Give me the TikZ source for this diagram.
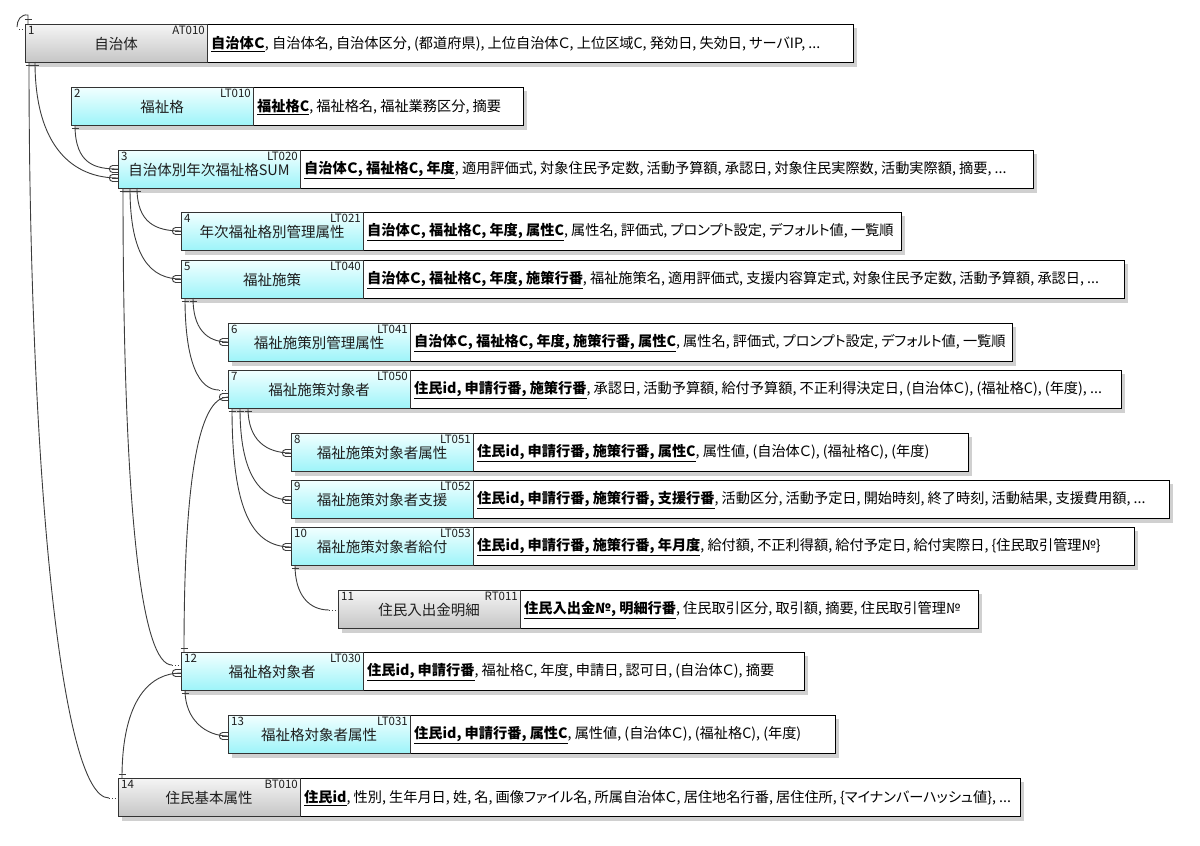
\documentclass[tikz,border=0pt]{standalone}
\usepackage{fontspec}
\setmainfont{Noto Sans CJK JP}
\newfontfamily\attrfont{Noto Sans CJK JP}[RawFeature=+palt]
\usetikzlibrary{calc}
\definecolor{cyanT}{HTML}{F2FFFF}
\definecolor{cyanB}{HTML}{9EF4F9}
\definecolor{grayT}{HTML}{F5F5F5}
\definecolor{grayB}{HTML}{C6C6C6}
\definecolor{shadowc}{HTML}{D0D0D0}
\definecolor{edgec}{HTML}{333333}
\definecolor{connc}{HTML}{3C3C3C}
\definecolor{txtc}{HTML}{1E1E1E}
\tikzset{
 lbox/.style={draw=edgec, line width=1pt, minimum width=182pt, minimum height=38pt, anchor=north west, inner sep=0pt, outer sep=0pt},
 cy/.style={top color=cyanT, bottom color=cyanB},
 gr/.style={top color=grayT, bottom color=grayB},
 abox/.style={draw=black, line width=1pt, fill=white, minimum height=38pt, anchor=north west, inner sep=0pt, outer sep=0pt},
 numl/.style={font=\fontsize{11.5}{11.5}\selectfont, text=txtc, anchor=north west, inner sep=0pt},
 codel/.style={font=\fontsize{11.5}{11.5}\selectfont, text=txtc, anchor=north east, inner sep=0pt},
 titl/.style={font=\fontsize{14.5}{15}\selectfont, text=txtc, inner sep=0pt},
 attl/.style={font=\attrfont\fontsize{14.2}{15}\selectfont, text=black, anchor=west, inner sep=0pt},
 conn/.style={draw=connc, line width=0.9pt},
 dotend/.style={draw=connc, line width=0.9pt, dotted},
}
\newcommand\pk[1]{\underline{\textbf{#1}}}
% #1 id, #2 num, #3 code, #4 x, #5 y, #6 right, #7 style, #8 title, #9 attrs
\newcommand\ent[9]{%
 \fill[shadowc] (#4+4,#5+4) rectangle (#6+4,#5+43);
 \node[abox, minimum width={#6-#4-182}] (a#1) at (#4+182,#5) {};
 \node[lbox,#7] (e#1) at (#4,#5) {};
 \node[numl] (n#1) at ($(e#1.north west)+(3,2)$) {#2};
 \node[codel] (c#1) at ($(e#1.north east)+(-2,1.5)$) {#3};
 \node[titl] (t#1) at ($(e#1.center)+(0,1)$) {#8};
 \node[attl] (x#1) at ($(a#1.west)+(4,1)$) {#9};
}
\newcommand\tkmark[2]{\draw[conn] ($(#1)+(-3.5,#2)$) -- ($(#1)+(3.5,#2)$);}
\newcommand\crow[1]{%
 \draw[conn] ($(#1)+(-6,-3.2)$) -- ($(#1)+(0,-3.2)$) ($(#1)+(-6,0)$) -- (#1) ($(#1)+(-6,3.2)$) -- ($(#1)+(0,3.2)$);
 \draw[conn] ($(#1)+(-5,-3.6)$) .. controls +(-4.8,0) and +(-4.8,0) .. ($(#1)+(-5,3.6)$);}
\begin{document}
\begin{tikzpicture}[x=1pt,y=-1pt]
\useasboundingbox (0,0) rectangle (1200,846);
\ent{1}{1}{AT010}{25}{24}{853}{gr}{自治体}{\pk{自治体Ｃ}, 自治体名, 自治体区分, (都道府県), 上位自治体Ｃ, 上位区域C, 発効日, 失効日, サーバIP, ...}
\ent{2}{2}{LT010}{71}{87}{523}{cy}{福祉格}{\pk{福祉格C}, 福祉格名, 福祉業務区分, 摘要}
\ent{3}{3}{LT020}{118}{150}{1033}{cy}{自治体別年次福祉格SUM}{\pk{自治体Ｃ, 福祉格C, 年度}, 適用評価式, 対象住民予定数, 活動予算額, 承認日, 対象住民実際数, 活動実際額, 摘要, ...}
\ent{4}{4}{LT021}{181}{212}{901}{cy}{年次福祉格別管理属性}{\pk{自治体Ｃ, 福祉格C, 年度, 属性C}, 属性名, 評価式, プロンプト設定, デフォルト値, 一覧順}
\ent{5}{5}{LT040}{181}{260}{1124}{cy}{福祉施策}{\pk{自治体Ｃ, 福祉格C, 年度, 施策行番}, 福祉施策名, 適用評価式, 支援内容算定式, 対象住民予定数, 活動予算額, 承認日, ...}
\ent{6}{6}{LT041}{228}{323}{1012}{cy}{福祉施策別管理属性}{\pk{自治体Ｃ, 福祉格C, 年度, 施策行番, 属性C}, 属性名, 評価式, プロンプト設定, デフォルト値, 一覧順}
\ent{7}{7}{LT050}{228}{370}{1121}{cy}{福祉施策対象者}{\pk{住民id, 申請行番, 施策行番}, 承認日, 活動予算額, 給付予算額, 不正利得決定日, (自治体Ｃ), (福祉格C), (年度), ...}
\ent{8}{8}{LT051}{291}{433}{968}{cy}{福祉施策対象者属性}{\pk{住民id, 申請行番, 施策行番, 属性C}, 属性値, (自治体Ｃ), (福祉格C), (年度)}
\ent{9}{9}{LT052}{291}{480}{1169}{cy}{福祉施策対象者支援}{\pk{住民id, 申請行番, 施策行番, 支援行番}, 活動区分, 活動予定日, 開始時刻, 終了時刻, 活動結果, 支援費用額, ...}
\ent{10}{10}{LT053}{291}{527}{1134}{cy}{福祉施策対象者給付}{\pk{住民id, 申請行番, 施策行番, 年月度}, 給付額, 不正利得額, 給付予定日, 給付実際日, \{住民取引管理№\}}
\ent{11}{11}{RT011}{338}{590}{978}{gr}{住民入出金明細}{\pk{住民入出金№, 明細行番}, 住民取引区分, 取引額, 摘要, 住民取引管理№}
\ent{12}{12}{LT030}{181}{652}{804}{cy}{福祉格対象者}{\pk{住民id, 申請行番}, 福祉格C, 年度, 申請日, 認可日, (自治体Ｃ), 摘要}
\ent{13}{13}{LT031}{228}{715}{835}{cy}{福祉格対象者属性}{\pk{住民id, 申請行番, 属性C}, 属性値, (自治体Ｃ), (福祉格C), (年度)}
\ent{14}{14}{BT010}{118}{778}{1020}{gr}{住民基本属性}{\pk{住民id}, 性別, 生年月日, 姓, 名, 画像ファイル名, 所属自治体Ｃ, 居住地名行番, 居住住所, \{マイナンバーハッシュ値\}, ...}

% ---- connectors ----
% self relation of 1
\coordinate (l0) at ($(e1.north west)+(3,0)$);
\coordinate (l1) at ($(e1.north west)+(3,-9)$);
\coordinate (l2) at ($(e1.north west)+(-8,3)$);
\coordinate (l3) at ($(e1.north west)+(-6,5)$);
\coordinate (l4) at ($(e1.north west)+(0,5)$);
\draw[conn] (l0) -- (l1) .. controls +(-7,-1) and +(0,-7) .. (l2);
\draw[dotend] (l3) -- (l4);
\tkmark{l0}{-5}

% 1 -> 14
\coordinate (s1) at ($(e1.south west)+(4,0)$);
\coordinate (u1) at ($(e14.west)+(0,1)$);
\coordinate (v1) at ($(u1)+(-9,0)$);
\draw[conn] (s1) .. controls +(0,390) and +(-50,0) .. (v1);
\draw[dotend] (v1) -- (u1);
\tkmark{s1}{3}
% 1 -> 3
\coordinate (s2) at ($(e1.south west)+(10,0)$);
\coordinate (u2) at ($(e3.west)+(0,9)$);
\draw[conn] (s2) .. controls +(0,85) and +(-45,0) .. (u2);
\tkmark{s2}{3}
\crow{u2}
% 2 -> 3
\coordinate (s3) at ($(e2.south west)+(4,0)$);
\coordinate (u3) at ($(e3.west)+(0,0)$);
\draw[conn] (s3) .. controls +(0,40) and +(-22,0) .. (u3);
\tkmark{s3}{3}
\crow{u3}
% 3 -> 4
\coordinate (s4) at ($(e3.south west)+(19,0)$);
\coordinate (u4) at ($(e4.west)+(0,0)$);
\draw[conn] (s4) .. controls +(0,35) and +(-25,0) .. (u4);
\tkmark{s4}{3}
\crow{u4}
% 3 -> 5
\coordinate (s5) at ($(e3.south west)+(12,0)$);
\coordinate (u5) at ($(e5.west)+(0,0)$);
\draw[conn] (s5) .. controls +(0,70) and +(-30,0) .. (u5);
\tkmark{s5}{3}
\crow{u5}
% 3 -> 12
\coordinate (s6) at ($(e3.south west)+(5,0)$);
\coordinate (u6) at ($(e12.west)+(0,-6)$);
\coordinate (v6) at ($(u6)+(-9,0)$);
\draw[conn] (s6) .. controls +(0,330) and +(-30,0) .. (v6);
\draw[dotend] (v6) -- (u6);
\tkmark{s6}{3}
% 5 -> 6
\coordinate (s7) at ($(e5.south west)+(12,0)$);
\coordinate (u7) at ($(e6.west)+(0,0)$);
\draw[conn] (s7) .. controls +(0,30) and +(-22,0) .. (u7);
\tkmark{s7}{3}
\crow{u7}
% 5 -> 7
\coordinate (s8) at ($(e5.south west)+(4,0)$);
\coordinate (u8) at ($(e7.west)+(0,1)$);
\coordinate (v8) at ($(u8)+(-9,0)$);
\draw[conn] (s8) .. controls +(0,65) and +(-20,0) .. (v8);
\draw[dotend] (v8) -- (u8);
\tkmark{s8}{3}
% 12 -> 7
\coordinate (s9) at ($(e12.north west)+(3,0)$);
\coordinate (u9) at ($(e7.west)+(0,8)$);
\draw[conn] (s9) .. controls +(0,-170) and +(-30,0) .. (u9);
\tkmark{s9}{-4}
\crow{u9}
% 7 -> 8
\coordinate (s10) at ($(e7.south west)+(20,0)$);
\coordinate (u10) at ($(e8.west)+(0,1)$);
\draw[conn] (s10) .. controls +(0,32) and +(-25,0) .. (u10);
\tkmark{s10}{3}
\crow{u10}
% 7 -> 9
\coordinate (s11) at ($(e7.south west)+(12,0)$);
\coordinate (u11) at ($(e9.west)+(0,1)$);
\draw[conn] (s11) .. controls +(0,65) and +(-32,0) .. (u11);
\tkmark{s11}{3}
\crow{u11}
% 7 -> 10
\coordinate (s12) at ($(e7.south west)+(4,0)$);
\coordinate (u12) at ($(e10.west)+(0,1)$);
\draw[conn] (s12) .. controls +(0,100) and +(-40,0) .. (u12);
\tkmark{s12}{3}
\crow{u12}
% 10 -> 11
\coordinate (s13) at ($(e10.south west)+(4,0)$);
\coordinate (u13) at ($(e11.west)+(0,1)$);
\coordinate (v13) at ($(u13)+(-9,0)$);
\draw[conn] (s13) .. controls +(0,30) and +(-20,0) .. (v13);
\draw[dotend] (v13) -- (u13);
\tkmark{s13}{3}
% 12 -> 13
\coordinate (s14) at ($(e12.south west)+(4,0)$);
\coordinate (u14) at ($(e13.west)+(0,2)$);
\draw[conn] (s14) .. controls +(0,30) and +(-22,0) .. (u14);
\tkmark{s14}{3}
\crow{u14}
% 14 -> 12
\coordinate (s15) at ($(e14.north west)+(4,0)$);
\coordinate (u15) at ($(e12.west)+(0,2)$);
\draw[conn] (s15) .. controls +(0,-80) and +(-30,0) .. (u15);
\tkmark{s15}{-4}
\crow{u15}
\end{tikzpicture}
\end{document}
